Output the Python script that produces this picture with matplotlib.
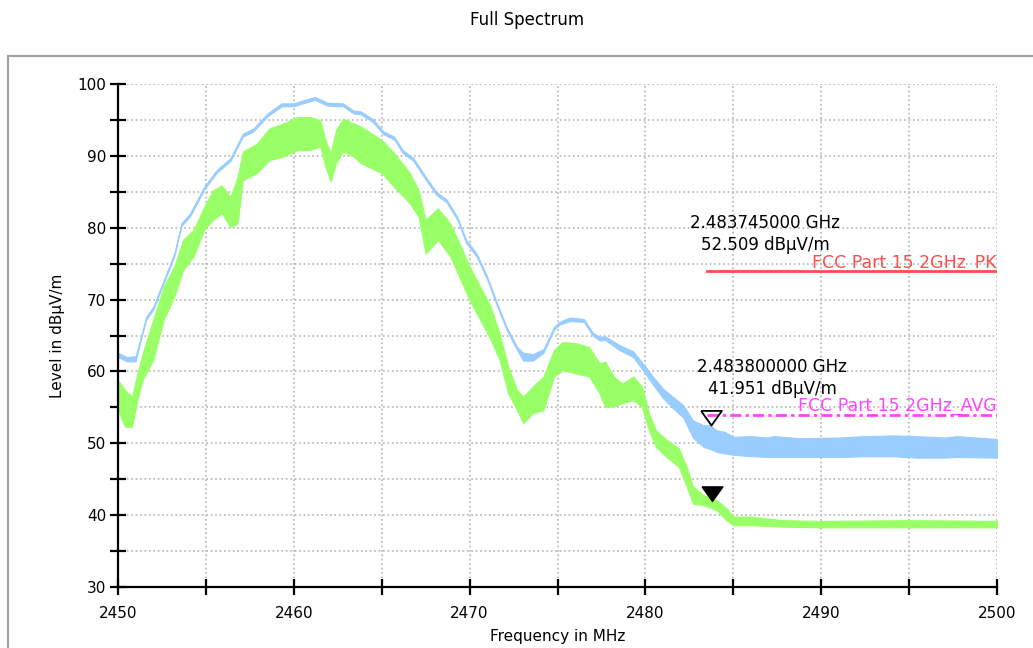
import numpy as np
import matplotlib
matplotlib.use('Agg')
import matplotlib.pyplot as plt
from matplotlib.lines import Line2D
from matplotlib.ticker import MultipleLocator

# peak trace (blue): frequency in MHz, upper / lower edge in dBuV/m
pk_f = [2450.0, 2450.5, 2451.0, 2451.3, 2451.6, 2452.0, 2452.6, 2453.2, 2453.6, 2454.1,
        2454.9, 2455.6, 2456.4, 2457.1, 2457.7, 2458.5, 2459.3, 2460.0, 2460.5, 2461.2,
        2461.9, 2462.8, 2463.4, 2463.8, 2464.5, 2465.1, 2465.7, 2466.2, 2466.8, 2467.5,
        2468.1, 2468.7, 2469.3, 2469.8, 2470.4, 2471.0, 2471.5, 2472.1, 2472.7, 2473.05,
        2473.6, 2474.2, 2474.8, 2475.1, 2475.7, 2476.5, 2477.0, 2477.4, 2477.7, 2478.5,
        2479.3, 2479.9, 2480.45, 2481.0, 2481.6, 2482.15, 2482.7, 2483.3, 2483.7, 2484.05,
        2484.5, 2485.0, 2486.0, 2486.9, 2487.3, 2488.8, 2491.0, 2492.5, 2494.1, 2495.4,
        2497.0, 2497.7, 2500.0]
pk_hi = [62.6, 62.0, 62.1, 64.8, 67.6, 69.0, 72.7, 76.4, 80.6, 82.0,
         85.7, 88.0, 89.7, 93.1, 93.8, 95.9, 97.3, 97.3, 97.7, 98.2,
         97.4, 97.3, 96.3, 96.2, 95.1, 93.4, 92.7, 90.8, 89.7, 87.1,
         85.0, 83.9, 81.5, 78.3, 76.4, 73.2, 69.9, 66.2, 63.4, 62.6,
         62.4, 63.1, 66.2, 66.9, 67.5, 67.3, 65.4, 64.8, 64.9, 63.7,
         62.8, 61.0, 59.2, 57.6, 56.4, 55.3, 53.2, 52.5, 52.5, 51.8,
         51.6, 50.9, 51.0, 50.8, 51.0, 50.7, 50.8, 51.0, 51.1, 51.0,
         50.8, 51.0, 50.6]
pk_lo = [62.0, 61.4, 61.4, 64.4, 67.2, 68.6, 72.3, 76.0, 80.2, 81.6,
         85.3, 87.6, 89.3, 92.7, 93.4, 95.5, 96.9, 96.9, 97.3, 97.8,
         97.0, 96.9, 95.9, 95.8, 94.7, 93.0, 92.3, 90.4, 89.3, 86.7,
         84.6, 83.5, 81.1, 77.9, 76.0, 72.8, 69.5, 65.8, 63.0, 61.5,
         61.5, 62.6, 65.8, 66.5, 67.0, 66.9, 65.0, 64.3, 64.4, 63.0,
         62.0, 60.0, 58.1, 56.3, 54.8, 53.6, 50.8, 49.5, 49.2, 48.8,
         48.6, 48.4, 48.2, 48.1, 48.1, 48.1, 48.1, 48.2, 48.2, 48.0,
         48.0, 48.1, 48.0]

# average trace (green): frequency in MHz, upper / lower edge in dBuV/m
av_f = [2450.0, 2450.4, 2450.8, 2451.1, 2451.4, 2452.0, 2452.6, 2453.2, 2453.7, 2454.3,
        2454.9, 2455.4, 2455.9, 2456.4, 2456.8, 2457.1, 2457.9, 2458.6, 2459.4, 2460.2,
        2460.9, 2461.5, 2461.8, 2462.1, 2462.4, 2462.8, 2463.4, 2463.8, 2465.0, 2465.7,
        2466.6, 2467.1, 2467.5, 2468.2, 2468.9, 2469.5, 2470.0, 2470.6, 2471.2, 2471.7,
        2472.2, 2472.7, 2473.05, 2473.6, 2474.2, 2474.8, 2475.3, 2476.1, 2476.8, 2477.4,
        2477.7, 2478.2, 2478.7, 2479.3, 2479.8, 2480.2, 2480.6, 2481.2, 2481.9, 2482.35,
        2482.7, 2483.3, 2484.05, 2484.6, 2485.0, 2486.0, 2487.8, 2490.0, 2495.0, 2500.0]
av_hi = [58.8, 57.4, 56.5, 59.7, 62.5, 67.2, 71.8, 74.6, 78.3, 79.7,
         82.9, 85.2, 85.9, 84.3, 87.1, 90.6, 91.7, 93.8, 94.5, 95.4,
         95.4, 95.0, 92.2, 90.4, 93.6, 95.2, 94.5, 94.1, 92.2, 90.4,
         87.6, 85.2, 81.1, 82.7, 80.6, 77.4, 74.6, 71.8, 69.0, 65.3,
         60.7, 57.4, 56.5, 57.9, 59.3, 63.0, 64.1, 63.9, 63.4, 61.1,
         61.4, 59.3, 58.3, 59.3, 57.9, 54.2, 51.8, 50.5, 49.3, 46.7,
         44.0, 42.8, 42.1, 41.0, 39.8, 39.8, 39.3, 39.2, 39.3, 39.2]
av_lo = [54.6, 52.3, 52.3, 56.0, 58.8, 61.6, 67.2, 70.4, 74.1, 76.0,
         79.7, 81.1, 82.0, 80.1, 80.6, 86.6, 87.6, 89.4, 89.9, 90.8,
         90.8, 91.3, 88.5, 86.4, 89.0, 90.6, 89.9, 89.0, 87.6, 85.7,
         83.4, 81.5, 76.4, 78.3, 76.0, 72.7, 69.9, 67.2, 64.4, 61.6,
         56.9, 54.6, 52.8, 54.2, 54.6, 59.3, 60.2, 59.7, 59.3, 56.9,
         55.1, 55.1, 55.6, 56.0, 55.1, 51.8, 49.5, 48.1, 46.7, 44.0,
         41.6, 41.4, 40.7, 39.3, 38.6, 38.6, 38.4, 38.3, 38.3, 38.3]

# limits and markers
pk_limit = 74.0
av_limit = 54.0
limit_start = 2483.5
mk1 = (2483.745, 52.509)
mk2 = (2483.800, 41.951)

fig = plt.figure(figsize=(10.33, 6.48), dpi=100)
ax = fig.add_axes([118/1033, 1-587/648, (997-118)/1033, (587-84)/648])

# frame around the plot region
fig.add_artist(Line2D([8/1033, 1], [1-56/648, 1-56/648], color='#a0a0a0', lw=1.5))
fig.add_artist(Line2D([8/1033, 8/1033], [0, 1-56/648], color='#a0a0a0', lw=1.5))
fig.text(0.51, 1-20/648, 'Full Spectrum', ha='center', va='center', fontsize=12)

ax.fill_between(pk_f, pk_lo, pk_hi, color='#99ccff', lw=0.8, zorder=2)
ax.fill_between(av_f, av_lo, av_hi, color='#99ff66', lw=0.8, zorder=2)

ax.plot([limit_start, 2500], [pk_limit, pk_limit], color='#ff4d4d', lw=2, zorder=3)
ax.plot([limit_start, 2500], [av_limit, av_limit], color='#ff44ff', lw=2,
        ls=(0, (4, 1.5, 1.2, 1.5)), zorder=3)
ax.text(2500, pk_limit + 0.5, 'FCC Part 15 2GHz_PK', color='#ff4d4d', fontsize=12.5,
        ha='right', va='baseline')
ax.text(2500, av_limit + 0.5, 'FCC Part 15 2GHz_AVG', color='#ff44ff', fontsize=12.5,
        ha='right', va='baseline')

tri = [(-1, 1.4), (1, 1.4), (0, 0), (-1, 1.4)]
ax.plot([mk1[0]], [mk1[1]], marker=tri, ms=21, mfc='none', mec='black', mew=1.3, zorder=4)
ax.plot([mk2[0]], [mk2[1]], marker=tri, ms=21, mfc='black', mec='black', zorder=4)
ax.text(2486.8, 76.3, '%.9f GHz\n%.3f dBµV/m' % (mk1[0]/1000, mk1[1]), fontsize=12,
        ha='center', va='bottom', linespacing=1.3)
ax.text(2487.2, 56.3, '%.9f GHz\n%.3f dBµV/m' % (mk2[0]/1000, mk2[1]), fontsize=12,
        ha='center', va='bottom', linespacing=1.3)

ax.set_xlim(2450, 2500)
ax.set_ylim(30, 100)
ax.xaxis.set_major_locator(MultipleLocator(10))
ax.xaxis.set_minor_locator(MultipleLocator(5))
ax.yaxis.set_major_locator(MultipleLocator(10))
ax.yaxis.set_minor_locator(MultipleLocator(5))
ax.grid(which='both', color='#b4b4b4', ls=':', lw=1.2)
ax.set_axisbelow(True)
for s in ['top', 'right']:
    ax.spines[s].set_visible(False)
for s in ['left', 'bottom']:
    ax.spines[s].set_linewidth(1.6)
ax.tick_params(which='both', direction='inout', length=11, width=1.6, labelsize=11)
ax.tick_params(axis='y', pad=3)
ax.tick_params(axis='x', pad=8)
ax.set_xlabel('Frequency in MHz', fontsize=11, labelpad=6)
ax.set_ylabel('Level in dBµV/m', fontsize=11, labelpad=9)

fig.savefig('out.png', dpi=100)
